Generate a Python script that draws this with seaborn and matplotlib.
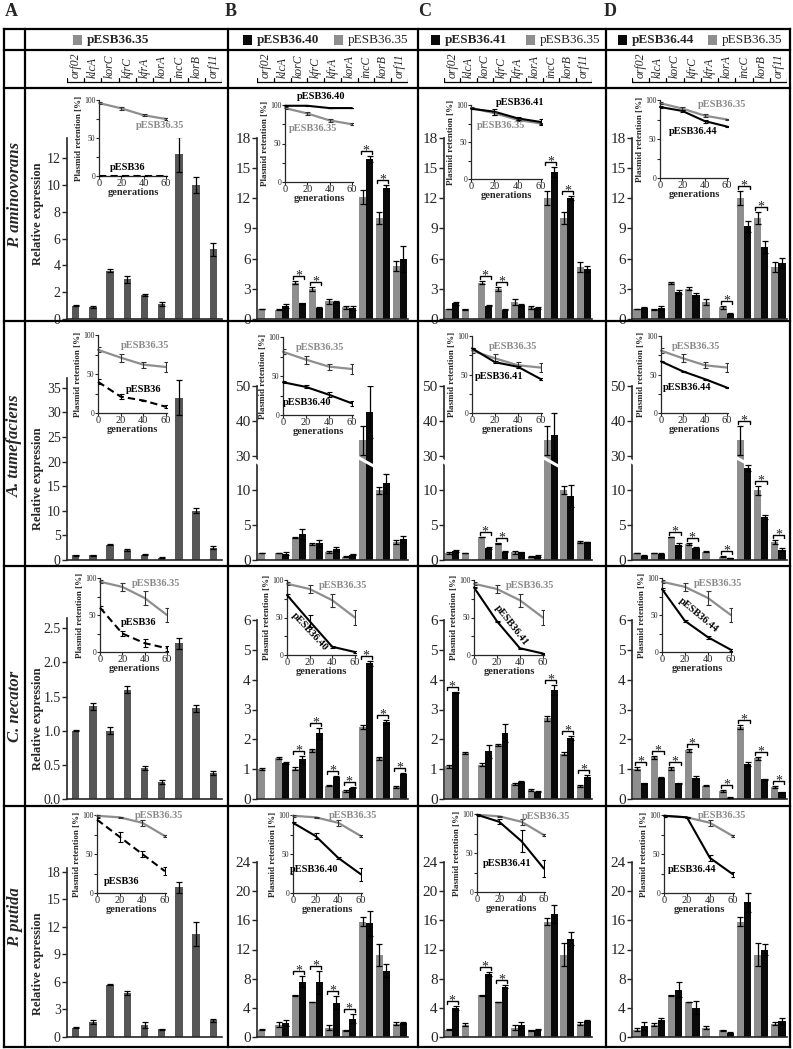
import numpy as np
import pandas as pd
import matplotlib
matplotlib.use('Agg')
import matplotlib.pyplot as plt
import matplotlib.patches as mpatches
from matplotlib.lines import Line2D
import matplotlib.transforms as mtransforms
import seaborn as sns

nan = np.nan

genes = ['orf02', 'klcA', 'korC', 'kfrC', 'kfrA', 'korA', 'incC', 'korB', 'orf11']
gens = [0, 20, 40, 60]
hosts = ['P. aminovorans', 'A. tumefaciens', 'C. necator', 'P. putida']
mutants = ['pESB36.40', 'pESB36.41', 'pESB36.44']

# ---------- relative expression: P. aminovorans ----------
am_A = [1.0, 0.9, 3.6, 2.95, 1.8, 1.15, 12.3, 10.0, 5.2]
am_A_sd = [0.05, 0.05, 0.12, 0.25, 0.05, 0.15, 1.3, 0.6, 0.5]
am_B35 = [1.0, 0.9, 3.6, 3.0, 1.75, 1.15, 12.1, 10.0, 5.3]
am_B35_sd = [0.03, 0.05, 0.15, 0.2, 0.25, 0.15, 0.7, 0.6, 0.5]
am_B40 = [nan, 1.3, 1.55, 1.1, 1.65, 1.1, 15.9, 13.0, 6.0]
am_B40_sd = [nan, 0.2, 0.05, 0.08, 0.1, 0.2, 0.3, 0.3, 1.3]
am_C35 = [1.0, 0.95, 3.6, 3.0, 1.7, 1.15, 12.0, 10.0, 5.2]
am_C35_sd = [0.03, 0.05, 0.15, 0.2, 0.3, 0.15, 0.7, 0.6, 0.5]
am_C41 = [1.55, nan, 1.3, 0.9, 1.4, 1.1, 14.6, 12.0, 5.0]
am_C41_sd = [0.15, nan, 0.05, 0.05, 0.1, 0.1, 0.5, 0.2, 0.3]
am_D35 = [1.0, 0.95, 3.6, 3.0, 1.7, 1.15, 12.0, 10.0, 5.2]
am_D35_sd = [0.03, 0.05, 0.1, 0.15, 0.3, 0.15, 0.7, 0.6, 0.5]
am_D44 = [1.1, 1.1, 2.7, 2.35, nan, 0.5, 9.2, 7.2, 5.6]
am_D44_sd = [0.05, 0.2, 0.2, 0.2, nan, 0.05, 0.5, 0.6, 0.5]
am_stars = [['korC', 'kfrC', 'incC', 'korB'], ['korC', 'kfrC', 'incC', 'korB'], ['korA', 'incC', 'korB']]

# ---------- A. tumefaciens ----------
at_A = [1.0, 1.0, 3.1, 2.1, 1.1, 0.5, 33.0, 10.0, 2.5]
at_A_sd = [0.1, 0.1, 0.12, 0.2, 0.15, 0.1, 3.5, 0.5, 0.3]
at_B35 = [1.0, 1.0, 3.2, 2.3, 1.2, 0.5, 34.4, 10.0, 2.6]
at_B35_sd = [0.05, 0.05, 0.05, 0.1, 0.15, 0.05, 4.2, 0.5, 0.3]
at_B40 = [nan, 0.9, 3.7, 2.4, 1.6, 0.75, 42.5, 11.0, 3.0]
at_B40_sd = [nan, 0.25, 0.7, 0.5, 0.25, 0.1, 7.5, 1.3, 0.5]
at_C35 = [1.0, 1.0, 3.3, 2.4, 1.1, 0.5, 34.4, 10.1, 2.6]
at_C35_sd = [0.15, 0.05, 0.05, 0.1, 0.2, 0.05, 4.2, 0.6, 0.2]
at_C41 = [1.3, nan, 1.7, 1.2, 1.1, 0.6, 35.8, 9.2, 2.6]
at_C41_sd = [0.2, nan, 0.1, 0.1, 0.1, 0.15, 6.5, 1.6, 0.05]
at_D35 = [1.0, 1.0, 3.3, 2.3, 1.2, 0.5, 34.4, 10.0, 2.6]
at_D35_sd = [0.05, 0.05, 0.05, 0.1, 0.1, 0.05, 4.2, 0.6, 0.3]
at_D44 = [0.6, 0.8, 2.2, 1.7, nan, 0.3, 26.5, 6.2, 1.5]
at_D44_sd = [0.05, 0.15, 0.2, 0.2, nan, 0.05, 0.8, 0.3, 0.2]
at_stars = [[], ['korC', 'kfrC'], ['korC', 'kfrC', 'korA', 'incC', 'korB', 'orf11']]

# ---------- C. necator ----------
cn_A = [1.0, 1.36, 1.0, 1.6, 0.45, 0.25, 2.28, 1.33, 0.38]
cn_A_sd = [0.01, 0.05, 0.05, 0.05, 0.03, 0.03, 0.08, 0.05, 0.03]
cn_B35 = [1.0, 1.38, 1.02, 1.63, 0.45, 0.26, 2.42, 1.36, 0.4]
cn_B35_sd = [0.04, 0.04, 0.04, 0.04, 0.03, 0.03, 0.06, 0.04, 0.02]
cn_B40 = [nan, 1.2, 1.33, 2.2, 0.73, 0.38, 4.55, 2.58, 0.85]
cn_B40_sd = [nan, 0.03, 0.12, 0.18, 0.05, 0.02, 0.08, 0.06, 0.03]
cn_C35 = [1.1, 1.55, 1.15, 1.82, 0.5, 0.3, 2.7, 1.52, 0.43]
cn_C35_sd = [0.05, 0.04, 0.06, 0.04, 0.04, 0.02, 0.07, 0.05, 0.04]
cn_C41 = [3.58, nan, 1.6, 2.22, 0.57, 0.25, 3.65, 2.05, 0.75]
cn_C41_sd = [0.02, nan, 0.22, 0.3, 0.02, 0.02, 0.18, 0.06, 0.06]
cn_D35 = [1.02, 1.4, 1.03, 1.63, 0.45, 0.26, 2.42, 1.36, 0.4]
cn_D35_sd = [0.05, 0.05, 0.05, 0.05, 0.02, 0.03, 0.06, 0.05, 0.02]
cn_D44 = [0.52, 0.7, 0.52, 0.72, nan, 0.05, 1.17, 0.66, 0.22]
cn_D44_sd = [0.02, 0.03, 0.03, 0.06, nan, 0.01, 0.08, 0.02, 0.02]
cn_stars = [['korC', 'kfrC', 'kfrA', 'korA', 'incC', 'korB', 'orf11'],
            ['orf02', 'incC', 'korB', 'orf11'],
            ['orf02', 'klcA', 'korC', 'kfrC', 'korA', 'incC', 'korB', 'orf11']]

# ---------- P. putida ----------
pp_A = [1.0, 1.6, 5.7, 4.8, 1.3, 0.85, 16.3, 11.2, 1.8]
pp_A_sd = [0.05, 0.2, 0.05, 0.2, 0.3, 0.05, 0.6, 1.3, 0.2]
pp_B35 = [1.0, 1.7, 5.7, 4.8, 1.3, 0.9, 15.8, 11.3, 1.8]
pp_B35_sd = [0.05, 0.3, 0.05, 0.05, 0.3, 0.05, 0.6, 1.5, 0.2]
pp_B40 = [nan, 1.9, 7.6, 7.5, 4.7, 2.5, 15.6, 9.1, 1.9]
pp_B40_sd = [nan, 0.4, 0.8, 1.6, 0.9, 0.6, 1.7, 0.9, 0.1]
pp_C35 = [1.0, 1.7, 5.7, 4.8, 1.3, 0.9, 15.8, 11.3, 1.8]
pp_C35_sd = [0.05, 0.2, 0.05, 0.05, 0.3, 0.05, 0.5, 1.6, 0.2]
pp_C41 = [4.0, nan, 8.6, 6.9, 1.6, 1.0, 16.9, 13.5, 2.2]
pp_C41_sd = [0.3, nan, 0.3, 0.2, 0.4, 0.05, 1.2, 0.9, 0.2]
pp_D35 = [1.0, 1.7, 5.7, 4.8, 1.3, 0.9, 15.8, 11.3, 1.8]
pp_D35_sd = [0.2, 0.2, 0.05, 0.05, 0.2, 0.05, 0.6, 1.6, 0.2]
pp_D44 = [1.5, 2.3, 6.5, 4.0, nan, 0.6, 18.5, 12.0, 2.2]
pp_D44_sd = [0.5, 0.3, 1.0, 0.9, nan, 0.15, 1.3, 0.8, 0.4]
pp_stars = [['korC', 'kfrC', 'kfrA', 'korA'], ['orf02', 'korC', 'kfrC'], []]

# ---------- plasmid retention (%) over generations ----------
am_r35, am_r35_sd = [96, 89, 80, 75], [1, 2, 1.5, 1]
am_r36, am_r36_sd = [0, 0, 0, 0], [0, 0, 0, 0]
am_r40, am_r40_sd = [99, 99, 96, 96], [0.5, 0.5, 0.5, 0.5]
am_r41, am_r41_sd = [95, 91, 82, 77], [1, 4, 2, 4]
am_r44, am_r44_sd = [91, 86, 73, 66], [1, 1, 2, 1]
at_r35, at_r35_sd = [81, 71, 62, 59], [3, 5, 4, 6]
at_r36, at_r36_sd = [40, 21, 16, 8], [3, 3, 1, 2]
at_r40, at_r40_sd = [42, 36, 26, 15], [1, 2, 3, 3]
at_r41, at_r41_sd = [84, 66, 60, 44], [1, 1, 1, 1]
at_r44, at_r44_sd = [67, 54, 44, 33], [0.5, 0.5, 0.5, 1]
cn_r35, cn_r35_sd = [95, 88, 73, 50], [2, 5, 9, 10]
cn_r36, cn_r36_sd = [60, 25, 12, 5], [2, 4, 5, 3]
cn_r40, cn_r40_sd = [80, 45, 11, 4], [2, 8, 1, 1]
cn_r41, cn_r41_sd = [90, 45, 9, 2], [1, 1, 1, 1]
cn_r44, cn_r44_sd = [85, 42, 20, 3], [1, 1, 2, 1]
pp_r35, pp_r35_sd = [99, 97, 90, 73], [1, 1, 4, 1]
pp_r36, pp_r36_sd = [94, 72, 50, 28], [2, 6, 4, 5]
pp_r40, pp_r40_sd = [90, 73, 45, 24], [1, 4, 1, 8]
pp_r41, pp_r41_sd = [99, 90, 65, 30], [1, 3, 14, 11]
pp_r44, pp_r44_sd = [99, 97, 45, 24], [1, 1, 4, 3]

# ---------- style ----------
sns.set_style('ticks')
plt.rcParams['font.family'] = ['Liberation Serif', 'DejaVu Serif']
plt.rcParams['axes.linewidth'] = 1.2

DARK = '#575757'
GRAY = '#8e8e8e'
BLACK = '#0a0a0a'
TXTGRAY = '#8a8a8a'

W, H = 793, 1049
fig = plt.figure(figsize=(W / 100, H / 100), dpi=100)


def px_axes(x0, y0, x1, y1):
    return fig.add_axes([x0 / W, 1 - y1 / H, (x1 - x0) / W, (y1 - y0) / H])


def brk_fwd(v):
    v = np.asarray(v, dtype=float)
    return np.where(v <= 12.5, v / 5, np.where(v >= 25, v / 10 + 0.00125, 2.5 + (v - 12.5) * 1e-4))


def brk_inv(f):
    f = np.asarray(f, dtype=float)
    return np.where(f <= 2.5, f * 5, np.where(f >= 2.50125, (f - 0.00125) * 10, 12.5 + (f - 2.5) * 1e4))


def add_star(ax, i, top):
    tr = ax.transData
    inv = tr.inverted()
    xl, yb = tr.transform((i - 0.33, top))
    xr, _ = tr.transform((i + 0.33, top))
    y1, y2 = yb + 2, yb + 5
    pts = inv.transform([(xl, y1), (xl, y2), (xr, y2), (xr, y1)])
    ax.plot(pts[:, 0], pts[:, 1], color='black', lw=1.0, clip_on=False, zorder=4)
    sx, sy = inv.transform((0.5 * (xl + xr), y2 - 3.5))
    ax.text(sx, sy, '*', ha='center', va='baseline', fontsize=10, zorder=4)


def bar_panel(ax, v35, s35, vX=None, sX=None, name=None, stars=(), ymax=10, ticks=(), decimals=False,
              broken=False, tsize=11):
    x = np.arange(len(genes))
    ekw = dict(fmt='none', ecolor='black', elinewidth=0.9, capsize=2.2, capthick=0.9, zorder=3)
    if vX is None:
        df = pd.DataFrame({'gene': genes, 'value': v35})
        sns.barplot(data=df, x='gene', y='value', order=genes, color=DARK, width=0.43,
                    saturation=1, errorbar=None, linewidth=0, ax=ax)
        ax.errorbar(x, v35, yerr=s35, **ekw)
    else:
        df = pd.concat([pd.DataFrame({'gene': genes, 'plasmid': 'pESB36.35', 'value': v35}),
                        pd.DataFrame({'gene': genes, 'plasmid': name, 'value': vX})]).dropna()
        sns.barplot(data=df, x='gene', y='value', hue='plasmid', order=genes,
                    hue_order=['pESB36.35', name], palette=[GRAY, BLACK], width=0.84,
                    saturation=1, errorbar=None, linewidth=0, legend=False, ax=ax)
        ax.errorbar(x - 0.21, v35, yerr=s35, **ekw)
        ax.errorbar(x + 0.21, vX, yerr=sX, **ekw)
    if broken:
        ax.set_yscale('function', functions=(brk_fwd, brk_inv))
    ax.set_xlim(-0.5, 8.5)
    ax.set_ylim(0, ymax)
    ax.set_yticks(ticks)
    ax.yaxis.set_minor_locator(matplotlib.ticker.NullLocator())
    if decimals:
        ax.set_yticklabels([f'{t:.1f}' for t in ticks])
    else:
        ax.set_yticklabels([f'{t:g}' for t in ticks])
    ax.set_xlabel('')
    ax.set_ylabel('')
    ax.tick_params(axis='x', bottom=False, labelbottom=False)
    ax.tick_params(axis='y', labelsize=tsize, length=3.5, width=1.0, pad=1)
    sns.despine(ax=ax)
    ax.patch.set_alpha(0)
    if broken:
        # white slash through the tall incC bars and a break in the y axis
        ax.plot([5.55, 6.45], [29.4, 27.0], color='white', lw=2.2, zorder=2.6)
        tb = mtransforms.blended_transform_factory(ax.transAxes, ax.transData)
        ax.plot([-0.025, 0.025], [29.0, 27.4], transform=tb, color='white', lw=2.6,
                clip_on=False, zorder=5)
    for g in stars:
        i = genes.index(g)
        top = np.nanmax([v35[i] + s35[i], vX[i] + sX[i]])
        add_star(ax, i, top)


def inset(box, r35, s35, rX, sX, dashed, labels):
    x0, x1, yt, yb = box
    ax = px_axes(x0, yt, x1, yb)
    ax.patch.set_alpha(0)
    ax.errorbar(gens, r35, yerr=s35, fmt='none', ecolor='#333333', elinewidth=0.8,
                capsize=1.8, capthick=0.8, zorder=3)
    ax.errorbar(gens, rX, yerr=sX, fmt='none', ecolor='black', elinewidth=0.8,
                capsize=1.8, capthick=0.8, zorder=3)
    sns.lineplot(x=gens, y=r35, ax=ax, color=GRAY, linewidth=1.6, clip_on=False, zorder=2)
    sns.lineplot(x=gens, y=rX, ax=ax, color='black', linewidth=1.5,
                 linestyle=(0, (3.5, 2)) if dashed else '-', clip_on=False, zorder=2.5)
    ax.set_xlim(0, 61)
    ax.set_ylim(0, 100)
    ax.set_xticks(gens)
    ax.set_yticks([0, 50, 100])
    ax.set_yticks([25, 75], minor=True)
    ax.tick_params(axis='x', labelsize=7.5, length=2, width=0.8, pad=0.5)
    ax.tick_params(axis='y', which='both', labelsize=5.5, length=2, width=0.8, pad=0.5)
    ax.set_xlabel('generations', fontsize=7.5, fontweight='bold', labelpad=-0.5)
    ax.set_ylabel('Plasmid retention [%]', fontsize=6.5, fontweight='bold', labelpad=1)
    for sp in ['left', 'bottom']:
        ax.spines[sp].set_linewidth(0.9)
    sns.despine(ax=ax)
    for txt, gx, gy, rot in labels:
        c = TXTGRAY if txt == 'pESB36.35' else 'black'
        ax.text(gx, gy, txt, color=c, fontsize=7.5, fontweight='bold', rotation=rot,
                ha='center', va='center', clip_on=False)


# ---------- layout (pixels) ----------
col_x = [(67, 222), (257, 408), (444, 592), (632, 787)]
row_base = [319, 560, 799, 1037]
top_A = [138, 378, 618, 868]
top_X = [138, 386, 620, 862]
ymax_A = [13.5, 37, 2.65, 18.4]
ymax_X = [18, 50, 6, 24]
ticks_A = [[0, 2, 4, 6, 8, 10, 12], [0, 5, 10, 15, 20, 25, 30, 35],
           [0.0, 0.5, 1.0, 1.5, 2.0, 2.5], [0, 3, 6, 9, 12, 15, 18]]
ticks_X = [[0, 3, 6, 9, 12, 15, 18], [0, 5, 10, 30, 40, 50],
           [0, 1, 2, 3, 4, 5, 6], [0, 4, 8, 12, 16, 20, 24]]
inset_box = [
    [(99, 167, 100, 176), (285, 353, 105, 182), (471, 542, 105, 179), (660, 728, 100, 178)],
    [(98, 167, 335, 413), (283, 353, 337, 415), (472, 542, 336, 413), (661, 728, 336, 413)],
    [(100, 168, 578, 652), (287, 356, 580, 655), (474, 544, 580, 655), (662, 732, 578, 652)],
    [(97, 166, 815, 893), (293, 362, 815, 893), (477, 545, 814, 892), (664, 734, 815, 893)],
]
inset_labels = [
    [[('pESB36.35', 55, 67, 0), ('pESB36', 26, 11, 0)],
     [('pESB36.40', 32, 111, 0), ('pESB36.35', 25, 70, 0)],
     [('pESB36.41', 42, 104, 0), ('pESB36.35', 26, 72, 0)],
     [('pESB36.35', 56, 94, 0), ('pESB36.44', 30, 60, 0)]],
    [[('pESB36.35', 42, 86, 0), ('pESB36', 40, 30, 0)],
     [('pESB36.35', 32, 86, 0), ('pESB36.40', 21, 16, 0)],
     [('pESB36.35', 36, 86, 0), ('pESB36.41', 24, 47, 0)],
     [('pESB36.35', 32, 86, 0), ('pESB36.44', 24, 33, 0)]],
    [[('pESB36.35', 50, 92, 0), ('pESB36', 35, 40, 0)],
     [('pESB36.35', 50, 92, 0), ('pESB36.40', 20, 31, -47)],
     [('pESB36.35', 49, 92, 0), ('pESB36.41', 33, 40, -52)],
     [('pESB36.35', 49, 92, 0), ('pESB36.44', 32, 50, -40)]],
    [[('pESB36.35', 55, 100, 0), ('pESB36', 22, 15, 0)],
     [('pESB36.35', 53, 100, 0), ('pESB36.40', 19, 30, 0)],
     [('pESB36.35', 62, 97, 0), ('pESB36.41', 27, 37, 0)],
     [('pESB36.35', 51, 99, 0), ('pESB36.44', 25, 30, 0)]],
]

rows = [
    (am_A, am_A_sd, [(am_B35, am_B35_sd, am_B40, am_B40_sd), (am_C35, am_C35_sd, am_C41, am_C41_sd),
                     (am_D35, am_D35_sd, am_D44, am_D44_sd)], am_stars,
     (am_r35, am_r35_sd), [(am_r36, am_r36_sd), (am_r40, am_r40_sd), (am_r41, am_r41_sd), (am_r44, am_r44_sd)]),
    (at_A, at_A_sd, [(at_B35, at_B35_sd, at_B40, at_B40_sd), (at_C35, at_C35_sd, at_C41, at_C41_sd),
                     (at_D35, at_D35_sd, at_D44, at_D44_sd)], at_stars,
     (at_r35, at_r35_sd), [(at_r36, at_r36_sd), (at_r40, at_r40_sd), (at_r41, at_r41_sd), (at_r44, at_r44_sd)]),
    (cn_A, cn_A_sd, [(cn_B35, cn_B35_sd, cn_B40, cn_B40_sd), (cn_C35, cn_C35_sd, cn_C41, cn_C41_sd),
                     (cn_D35, cn_D35_sd, cn_D44, cn_D44_sd)], cn_stars,
     (cn_r35, cn_r35_sd), [(cn_r36, cn_r36_sd), (cn_r40, cn_r40_sd), (cn_r41, cn_r41_sd), (cn_r44, cn_r44_sd)]),
    (pp_A, pp_A_sd, [(pp_B35, pp_B35_sd, pp_B40, pp_B40_sd), (pp_C35, pp_C35_sd, pp_C41, pp_C41_sd),
                     (pp_D35, pp_D35_sd, pp_D44, pp_D44_sd)], pp_stars,
     (pp_r35, pp_r35_sd), [(pp_r36, pp_r36_sd), (pp_r40, pp_r40_sd), (pp_r41, pp_r41_sd), (pp_r44, pp_r44_sd)]),
]

for r, (vA, sA, others, stars, ret35, retX) in enumerate(rows):
    x0, x1 = col_x[0]
    ax = px_axes(x0, top_A[r], x1, row_base[r])
    bar_panel(ax, vA, sA, ymax=ymax_A[r], ticks=ticks_A[r], decimals=(r == 2), tsize=10)
    for c in range(3):
        x0, x1 = col_x[c + 1]
        ax = px_axes(x0, top_X[r], x1, row_base[r])
        v35, s35, vX, sX = others[c]
        bar_panel(ax, v35, s35, vX, sX, name=mutants[c], stars=stars[c], ymax=ymax_X[r],
                  ticks=ticks_X[r], broken=(r == 1))
    for c in range(4):
        inset(inset_box[r][c], ret35[0], ret35[1], retX[c][0], retX[c][1], c == 0, inset_labels[r][c])


# ---------- table frame and headers ----------
def fline(xa, ya, xb, yb, lw=1.6):
    fig.add_artist(Line2D([xa / W, xb / W], [1 - ya / H, 1 - yb / H], transform=fig.transFigure,
                          color='black', lw=lw, solid_capstyle='projecting'))


for y in [29, 50, 88, 321, 566, 806, 1047]:
    fline(4, y, 790, y)
for x in [4, 25, 228, 418, 606, 790]:
    fline(x, 29, x, 1047)

for lab, x in zip(['A', 'B', 'C', 'D'], [5, 225, 418, 604]):
    fig.text(x / W, 1 - 12 / H, lab, fontsize=13, fontweight='bold', va='center', ha='left')

legend_items = [(73, GRAY, 'pESB36.35', 'bold'),
                (243, BLACK, 'pESB36.40', 'bold'), (334, GRAY, 'pESB36.35', 'normal'),
                (431, BLACK, 'pESB36.41', 'bold'), (526, GRAY, 'pESB36.35', 'normal'),
                (618, BLACK, 'pESB36.44', 'bold'), (708, GRAY, 'pESB36.35', 'normal')]
for sx, colr, txt, wt in legend_items:
    fig.add_artist(mpatches.Rectangle((sx / W, 1 - 44.5 / H), 9 / W, 9 / H, transform=fig.transFigure,
                                      facecolor=colr, edgecolor='none'))
    fig.text((sx + 14) / W, 1 - 40 / H, txt, fontsize=9.5, fontweight=wt, va='center', ha='left')

for x0, x1 in col_x:
    hx = px_axes(x0, 50, x1, 88)
    hx.set_axis_off()
    hx.set_xlim(-0.5, 8.5)
    hx.set_ylim(0, 38)
    hx.plot([-0.5, 8.5], [6, 6], color='black', lw=0.9)
    for b in np.arange(-0.5, 9.0, 1.0):
        hx.plot([b, b], [6, 10], color='black', lw=0.9)
    for i, g in enumerate(genes):
        hx.text(i, 10.5, g, rotation=90, ha='center', va='bottom', fontsize=8.5, fontstyle='italic')

for name, yc in zip(hosts, [195, 446, 706, 917]):
    fig.text(15 / W, 1 - yc / H, name, rotation=90, fontsize=12, fontweight='bold', fontstyle='italic',
             ha='center', va='center')
for yc in [214, 479, 719, 964]:
    fig.text(38 / W, 1 - yc / H, 'Relative expression', rotation=90, fontsize=9, fontweight='bold',
             ha='center', va='center')

fig.savefig('out.png', dpi=100, facecolor='white')
